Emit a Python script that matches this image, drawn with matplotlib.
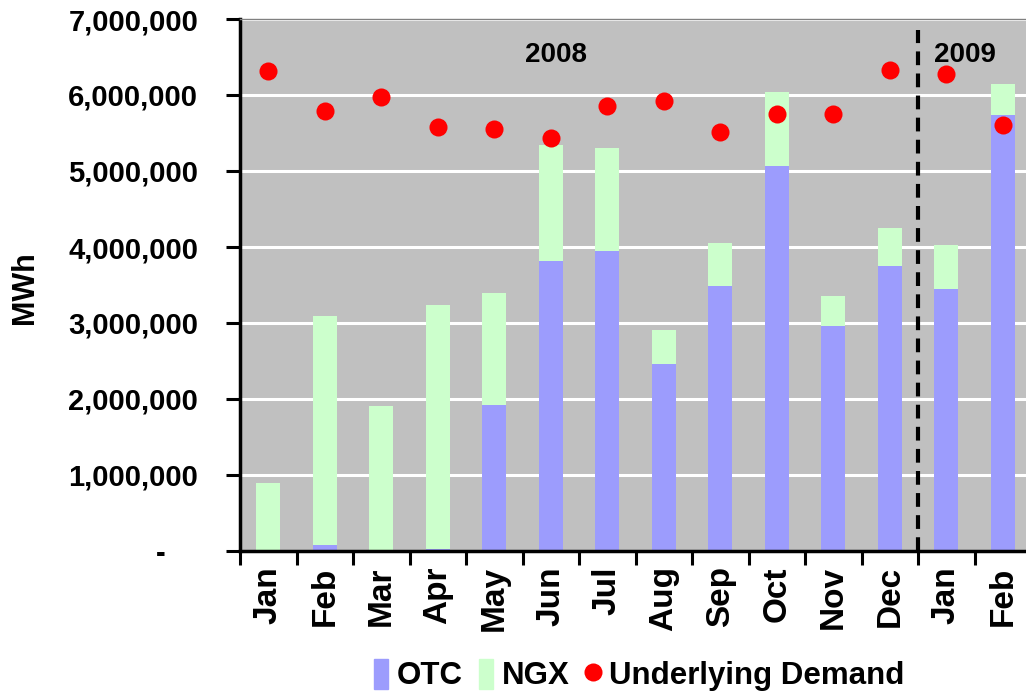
import matplotlib.pyplot as plt
import matplotlib.ticker as mticker
from matplotlib.patches import Patch
from matplotlib.lines import Line2D

plt.rcParams['font.family'] = ['Liberation Sans', 'DejaVu Sans']
plt.rcParams['font.weight'] = 'bold'

months = ['Jan', 'Feb', 'Mar', 'Apr', 'May', 'Jun', 'Jul', 'Aug', 'Sep', 'Oct',
          'Nov', 'Dec', 'Jan', 'Feb']
otc = [0, 80000, 0, 25000, 1920000, 3820000, 3950000, 2460000, 3490000,
       5060000, 2960000, 3750000, 3450000, 5740000]
ngx = [890000, 3010000, 1905000, 3215000, 1480000, 1520000, 1350000, 450000,
       560000, 980000, 400000, 500000, 580000, 410000]
demand = [6310000, 5790000, 5980000, 5580000, 5550000, 5440000, 5860000,
          5920000, 5510000, 5750000, 5750000, 6330000, 6270000, 5600000]

otc_color = '#9C9CFD'
ngx_color = '#CCFFCC'

fig = plt.figure(figsize=(10.26, 6.97), dpi=100)
ax = fig.add_axes([240 / 1026, 1 - 551 / 697, 791 / 1026, 532 / 697])
ax.set_facecolor('#C0C0C0')

x = list(range(len(months)))
ax.bar(x, otc, width=0.42, color=otc_color, zorder=2)
ax.bar(x, ngx, width=0.42, bottom=otc, color=ngx_color, zorder=2)
ax.plot(x, demand, 'o', color='red', markersize=13, markeredgewidth=0, zorder=4)

# year divider
ax.plot([11.5, 11.5], [0, 6860000], color='black', lw=3, dashes=(3.3, 2.0), zorder=3)
ax.text(5.09, 6530000, '2008', fontsize=20, fontweight='bold', ha='center', va='center')
ax.text(12.33, 6530000, '2009', fontsize=20, fontweight='bold', ha='center', va='center')

ax.set_xlim(-0.5, 13.5)
ax.set_ylim(0, 7000000)
ax.yaxis.grid(True, color='white', lw=2.2, zorder=1)
ax.set_axisbelow(True)

ax.set_yticks(range(0, 7000001, 1000000))
ax.yaxis.set_major_formatter(mticker.FuncFormatter(
    lambda v, p: '-    ' if v == 0 else '{:,.0f}'.format(v)))
ax.tick_params(axis='y', labelsize=21, length=10, width=2.2, pad=20)

ax.set_xticks(x)
ax.set_xticklabels(months, rotation=90, fontsize=24, fontweight='bold')
ax.set_xticks([i - 0.5 for i in range(15)], minor=True)
ax.tick_params(axis='x', which='major', length=0, pad=11)
ax.tick_params(axis='x', which='minor', length=10, width=2.2)

for s in ['left', 'bottom']:
    ax.spines[s].set_linewidth(2.5)
ax.spines['right'].set_visible(False)
ax.spines['top'].set_color('#808080')
ax.spines['top'].set_linewidth(1)

fig.text(25 / 1026, 1 - 288 / 697, 'MWh', rotation=90, fontsize=22,
         fontweight='bold', ha='center', va='center')

handles = [Patch(color=otc_color), Patch(color=ngx_color),
           Line2D([], [], marker='o', color='red', ls='', markersize=13, markeredgewidth=0)]
fig.legend(handles, ['OTC', 'NGX', 'Underlying Demand'], ncol=3, loc='center',
           bbox_to_anchor=(639 / 1026, 1 - 675 / 697), frameon=False, fontsize=22.5,
           handlelength=0.45, handleheight=1.1, handletextpad=0.3, columnspacing=0.5,
           borderpad=0)

fig.savefig('out.png', dpi=100)
